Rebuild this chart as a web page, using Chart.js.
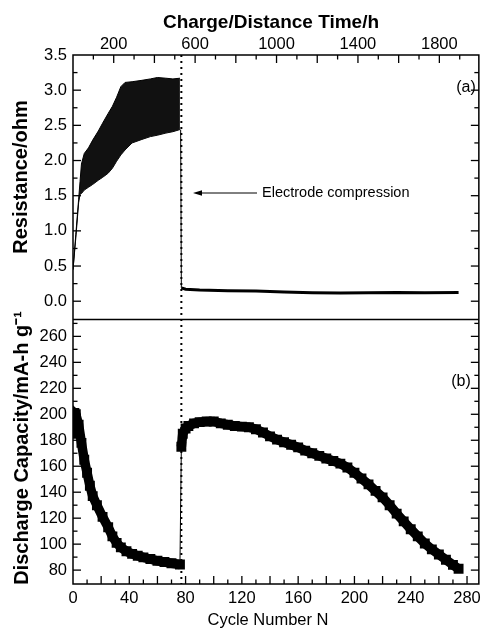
<!DOCTYPE html>
<html><head><meta charset="utf-8">
<script src="https://cdn.jsdelivr.net/npm/chart.js@4.4.1/dist/chart.umd.min.js"></script>
<style>html,body{margin:0;padding:0;background:#fff;overflow:hidden}canvas{display:block}</style>
</head><body>
<canvas id="c" width="486" height="629"></canvas>
<script>
// ---- data ----
// (a) resistance band before compression: cycle, upper and lower envelope (ohm)
const resCycles = [0, 2, 4, 5, 6, 8, 11, 14, 18, 21, 25, 28, 31, 34, 37, 42, 49, 55, 60, 66, 71, 76];
const resUpper  = [0.45, 0.95, 1.45, 1.70, 1.95, 2.10, 2.18, 2.29, 2.42, 2.53, 2.67, 2.77, 2.90, 3.05, 3.11, 3.12, 3.14, 3.16, 3.18, 3.17, 3.16, 3.17];
const resLower  = [0.45, 0.90, 1.40, 1.52, 1.53, 1.58, 1.62, 1.66, 1.72, 1.76, 1.82, 1.89, 1.99, 2.08, 2.15, 2.25, 2.30, 2.34, 2.36, 2.39, 2.41, 2.44];
// (a) resistance after electrode compression
const resTailCycles = [76.5, 77, 80, 90, 110, 130, 150, 170, 190, 210, 230, 250, 274];
const resTail       = [2.44, 0.19, 0.17, 0.16, 0.15, 0.145, 0.13, 0.12, 0.115, 0.12, 0.125, 0.12, 0.125];
// (b) discharge capacity (mA-h/g)
const capCycles = [0, 1, 2, 4, 6, 8, 10, 12, 14, 17, 21, 25, 28, 31, 34, 38, 42, 46, 50, 55, 60, 65, 70, 76,
                   77, 78, 80, 82, 86, 90, 95, 100, 105, 110, 115, 120, 125, 130, 135, 140, 145, 150, 155, 160,
                   165, 170, 175, 180, 185, 190, 195, 200, 205, 210, 215, 220, 225, 230, 235, 240, 245, 250,
                   255, 260, 265, 270, 274];
const capValues = [185, 201, 200, 192, 178, 165, 155, 145, 137, 130, 121, 113, 106, 101, 97.5, 94.5, 92.5, 91, 89.8, 88.5, 87.2, 86.2, 85.3, 84.3,
                   175, 185, 189, 191, 193, 194, 194.5, 194.5, 193, 192, 191, 190.5, 190, 188.5, 186, 183, 180.5, 178.5, 176.5, 174.5,
                   172, 170, 168, 166, 164, 162, 159, 155, 150.5, 146, 141, 136, 130, 123.5, 117.5, 111.5, 106, 100.5,
                   96, 92, 88, 84, 81];
// tick labels
const cycleTickLabels = [0, 40, 80, 120, 160, 200, 240, 280];
const timeTickLabels  = [200, 600, 1000, 1400, 1800];
const resTickLabels   = [0, 0.5, 1.0, 1.5, 2.0, 2.5, 3.0, 3.5];
const capTickLabels   = [80, 100, 120, 140, 160, 180, 200, 220, 240, 260];
const compressionCycle = 77;

const FONT = '"Liberation Sans", Arial, sans-serif';
Chart.defaults.font.family = FONT;
Chart.defaults.color = '#000';

const pts = (xs, ys) => xs.map((x, i) => ({x: x, y: ys[i]}));
const setTicks = arr => (s => { s.ticks = arr.map(v => ({value: v})); });
const tickFont = {size: 16.5, family: FONT};

const decor = {
  id: 'decor',
  afterDraw(chart) {
    const ctx = chart.ctx, a = chart.chartArea, S = chart.scales;
    ctx.save();
    ctx.strokeStyle = '#000'; ctx.fillStyle = '#000';
    // dotted compression line
    const xc = S.x.getPixelForValue(compressionCycle);
    ctx.lineWidth = 2; ctx.setLineDash([2, 4]);
    ctx.beginPath(); ctx.moveTo(xc, a.top); ctx.lineTo(xc, a.bottom); ctx.stroke();
    ctx.setLineDash([]);
    // frame and divider
    ctx.lineWidth = 1.5;
    ctx.strokeRect(a.left, a.top, a.right - a.left, a.bottom - a.top);
    const yd = S.yR.bottom;
    ctx.beginPath(); ctx.moveTo(a.left, yd); ctx.lineTo(a.right, yd); ctx.stroke();
    // inward ticks
    ctx.lineWidth = 1.3;
    const MAJ = 8, MIN = 4.5;
    function hTicks(scale, yEdge, dir, step, majEvery, from, to) {
      for (let k = Math.ceil(from / step); k * step <= to; k++) {
        const v = k * step, px = scale.getPixelForValue(v);
        if (px < a.left + 1 || px > a.right - 1) continue;
        const len = (k % majEvery === 0) ? MAJ : MIN;
        ctx.beginPath(); ctx.moveTo(px, yEdge); ctx.lineTo(px, yEdge + dir * len); ctx.stroke();
      }
    }
    function vTicks(scale, step, majEvery, from, to) {
      for (let k = Math.ceil(from / step); k * step <= to + 1e-9; k++) {
        const v = k * step, py = scale.getPixelForValue(v);
        if (py < scale.top + 1 || py > scale.bottom - 1) continue;
        const len = (k % majEvery === 0) ? MAJ : MIN;
        ctx.beginPath(); ctx.moveTo(a.left, py); ctx.lineTo(a.left + len, py); ctx.stroke();
        ctx.beginPath(); ctx.moveTo(a.right, py); ctx.lineTo(a.right - len, py); ctx.stroke();
      }
    }
    hTicks(S.x, a.bottom, -1, 10, 2, S.x.min, S.x.max);
    hTicks(S.xt, a.top, 1, 100, 2, S.xt.min, S.xt.max);
    vTicks(S.yR, 0.25, 2, S.yR.min, S.yR.max);
    vTicks(S.yC, 10, 2, S.yC.min, S.yC.max);
    // annotation
    ctx.lineWidth = 1;
    ctx.beginPath(); ctx.moveTo(257, 193); ctx.lineTo(199, 193); ctx.stroke();
    ctx.beginPath(); ctx.moveTo(193, 193); ctx.lineTo(202, 190.3); ctx.lineTo(202, 195.7); ctx.closePath(); ctx.fill();
    ctx.font = '14.5px ' + FONT; ctx.textAlign = 'left'; ctx.textBaseline = 'middle';
    ctx.fillText('Electrode compression', 262, 193);
    ctx.font = '16px ' + FONT; ctx.textAlign = 'center';
    ctx.fillText('(a)', 466, 88);
    ctx.fillText('(b)', 461, 382);
    // axis titles
    ctx.textBaseline = 'alphabetic';
    ctx.font = 'bold 19px ' + FONT;
    ctx.fillText('Charge/Distance Time/h', 271, 28);
    ctx.font = '16.5px ' + FONT;
    ctx.fillText('Cycle Number N', 268, 625);
    ctx.font = 'bold 20px ' + FONT;
    ctx.save(); ctx.translate(27, 177); ctx.rotate(-Math.PI / 2); ctx.fillText('Resistance/ohm', 0, 0); ctx.restore();
    ctx.save(); ctx.translate(28, 448); ctx.rotate(-Math.PI / 2); ctx.fillText('Discharge Capacity/mA-h g\u207B\u00B9', 0, 0); ctx.restore();
    ctx.restore();
  }
};

new Chart(document.getElementById('c'), {
  type: 'line',
  data: {
    datasets: [
      {data: pts(resCycles, resUpper), yAxisID: 'yR', xAxisID: 'x', borderColor: '#000', borderWidth: 1,
       pointRadius: 0, fill: '+1', backgroundColor: '#111'},
      {data: pts(resCycles, resLower), yAxisID: 'yR', xAxisID: 'x', borderColor: '#000', borderWidth: 1,
       pointRadius: 0, fill: false},
      {data: pts(resTailCycles, resTail), yAxisID: 'yR', xAxisID: 'x', borderColor: '#000', borderWidth: 3,
       pointRadius: 0, fill: false,
       segment: {borderWidth: c => c.p0DataIndex === 0 ? 1 : 3}},
      {data: pts(capCycles, capValues), yAxisID: 'yC', xAxisID: 'x', borderColor: '#000', borderWidth: 9.5,
       pointStyle: 'rect', pointRadius: 7, pointBackgroundColor: '#000', pointBorderWidth: 0, fill: false,
       segment: {borderWidth: c => Math.abs(c.p1.parsed.y - c.p0.parsed.y) > 40 ? 1 : 9.5}}
    ]
  },
  options: {
    responsive: false, animation: false, events: [],
    devicePixelRatio: 1,
    layout: {padding: {left: 0, right: 1, top: 0, bottom: 0}},
    plugins: {legend: {display: false}, tooltip: {enabled: false}},
    scales: {
      x: {type: 'linear', position: 'bottom', min: 0, max: 288.4,
          grid: {display: false, drawTicks: false}, border: {display: false},
          afterBuildTicks: setTicks(cycleTickLabels),
          ticks: {font: tickFont, padding: 5, maxRotation: 0, autoSkip: false, callback: v => String(v)},
          afterFit: s => { s.height = 45; }},
      xt: {type: 'linear', position: 'top', min: 0, max: 1994,
          grid: {display: false, drawTicks: false}, border: {display: false},
          afterBuildTicks: setTicks(timeTickLabels),
          ticks: {font: tickFont, padding: 1, maxRotation: 0, autoSkip: false, callback: v => String(v)},
          afterFit: s => { s.height = 55; }},
      yR: {type: 'linear', position: 'left', stack: 'v', stackWeight: 1, weight: 2, min: -0.26, max: 3.5,
          grid: {display: false, drawTicks: false}, border: {display: false},
          afterBuildTicks: setTicks(resTickLabels),
          ticks: {font: tickFont, padding: 6, autoSkip: false, callback: v => v.toFixed(1)},
          afterFit: s => { s.width = 73; }},
      yC: {type: 'linear', position: 'left', stack: 'v', stackWeight: 1, weight: 1, min: 69.3, max: 273,
          grid: {display: false, drawTicks: false}, border: {display: false},
          afterBuildTicks: setTicks(capTickLabels),
          ticks: {font: tickFont, padding: 6, autoSkip: false, callback: v => String(v)},
          afterFit: s => { s.width = 73; }}
    }
  },
  plugins: [decor]
});
</script>
</body></html>
